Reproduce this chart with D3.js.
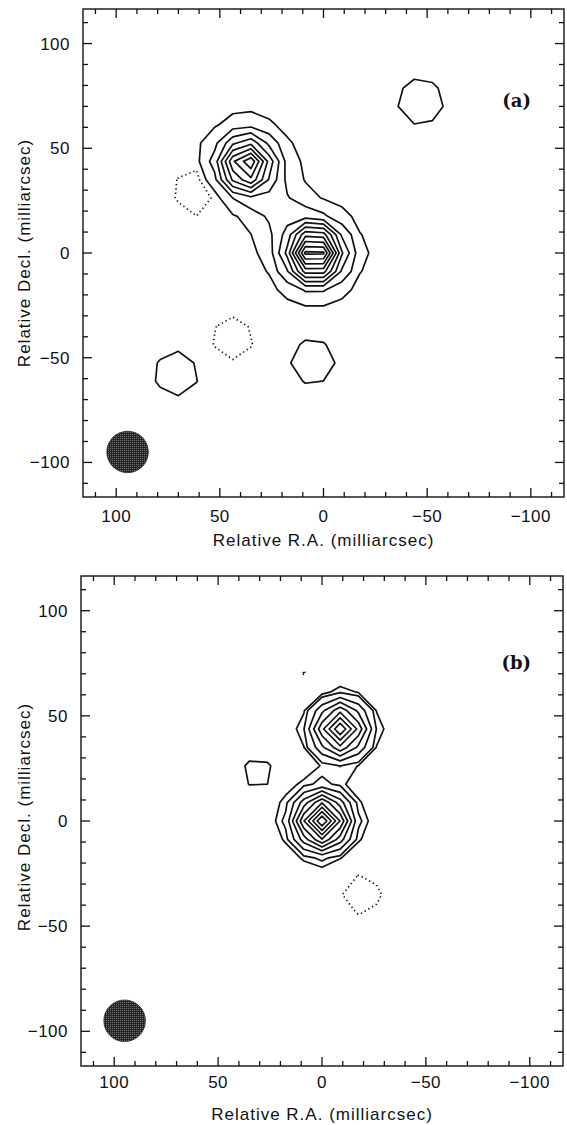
<!DOCTYPE html>
<html lang="en">
<head>
<meta charset="UTF-8">
<title>Relative R.A. / Decl. contour maps</title>
<script src="https://cdn.jsdelivr.net/npm/d3@7"></script>
<style>
  body { margin: 0; background: #fff; }
  text { font-family: "Liberation Sans", Arial, sans-serif; fill: #111; }
  .tick-label { font-size: 17px; letter-spacing: 0.5px; }
  .axis-title { font-size: 17px; letter-spacing: 1px; }
  .panel-tag { font-family: "DejaVu Serif", serif; font-weight: bold; font-size: 18px; }
  .frame { fill: none; stroke: #111; stroke-width: 1.4; }
  .tick { stroke: #111; stroke-width: 1.3; }
  .pos { fill: none; stroke: #111; stroke-width: 1.7; stroke-linejoin: round; }
  .neg { fill: none; stroke: #111; stroke-width: 1.7; stroke-dasharray: 1.3 3; }
</style>
</head>
<body>
<div id="chart"></div>
<script>
// image cell size (mas) and half-width of the map grid, in cells
var cellSize = 8.75;
var gridHalf = 14;

// contour levels, percent of peak
var levelsA = [-2, 2, 10, 20, 30, 40, 50, 60, 70, 80, 90];
var levelsB = [-6, 6, 10, 20, 30, 40, 50, 60, 70, 80, 90];

// components (a): RA, Dec (mas), peak (%), width (mas)
var compRA_A    = [4.4, 37, 21, -46.6, 59, 44, 70.7, 5.3];
var compDec_A   = [0, 42, 20, 72, 30, -41, -57.6, -52];
var compPeak_A  = [105, 82, 13, 4.5, -6, -4.0, 4.3, 4.3];
var compSigma_A = [8.5, 8.5, 9, 8.5, 8.5, 8.5, 8.5, 8.5];

// components (b)
var compRA_B    = [0, -8.75, 31, -19, 6];
var compDec_B   = [0, 43.75, 23, -35, 73];
var compPeak_B  = [101, 80, 8.5, -11, -7];
var compSigma_B = [8.5, 8.5, 8.5, 8.5, 8.5];

// restoring beam (lower left)
var beamRA = [94.5, 95];
var beamDec = [-95, -95];
var beamRadius = 10;

// axes
var tickValues = d3.range(-110, 111, 10);
var xTickLabels = [100, 50, 0, -50, -100];
var yTickLabels = [-100, -50, 0, 50, 100];
var panelTags = ["(a)", "(b)"];

var panels = [
  { tag: panelTags[0], levels: levelsA,
    ra: compRA_A, dec: compDec_A, peak: compPeak_A, sigma: compSigma_A,
    left: 83, right: 564, top: 9, bottom: 497,
    tickY: 522, titleY: 546, yTitleMid: 253, tagY: 107 },
  { tag: panelTags[1], levels: levelsB,
    ra: compRA_B, dec: compDec_B, peak: compPeak_B, sigma: compSigma_B,
    left: 81, right: 563, top: 576, bottom: 1066,
    tickY: 1088, titleY: 1120, yTitleMid: 817, tagY: 669 }
];

var width = 567, height = 1125;
var svg = d3.select("#chart").append("svg")
    .attr("width", width)
    .attr("height", height);

var defs = svg.append("defs");
var pat = defs.append("pattern")
    .attr("id", "stipple")
    .attr("patternUnits", "userSpaceOnUse")
    .attr("width", 2).attr("height", 2);
pat.append("rect").attr("width", 2).attr("height", 2).attr("fill", "#262626");
pat.append("rect").attr("width", 1).attr("height", 1).attr("fill", "#707070");

function fmt(v) {
  return v < 0 ? "\u2212" + (-v) : String(v);
}

function gridValues(p) {
  var n = 2 * gridHalf + 1;
  var values = new Array(n * n);
  for (var j = 0; j < n; j++) {
    for (var i = 0; i < n; i++) {
      var ra = (i - gridHalf) * cellSize,
          dec = (j - gridHalf) * cellSize,
          s = 0;
      for (var k = 0; k < p.ra.length; k++) {
        var dx = ra - p.ra[k], dy = dec - p.dec[k];
        s += p.peak[k] * Math.exp(-(dx * dx + dy * dy) / (2 * p.sigma[k] * p.sigma[k]));
      }
      values[j * n + i] = s;
    }
  }
  return values;
}

panels.forEach(function(p, pi) {
  var x = d3.scaleLinear().domain([116, -116]).range([p.left, p.right]);
  var y = d3.scaleLinear().domain([-116.5, 116.5]).range([p.bottom, p.top]);
  var g = svg.append("g").attr("class", "panel");

  // contours
  var n = 2 * gridHalf + 1;
  var toMas = function(c) { return (c - 0.5 - gridHalf) * cellSize; };
  var proj = d3.geoTransform({
    point: function(px, py) { this.stream.point(x(toMas(px)), y(toMas(py))); }
  });
  var path = d3.geoPath(proj);
  var values = gridValues(p);

  var posLevels = p.levels.filter(function(l) { return l > 0; });
  var negLevels = p.levels.filter(function(l) { return l < 0; }).map(function(l) { return -l; });

  var pos = d3.contours().size([n, n]).thresholds(posLevels)(values);
  var neg = d3.contours().size([n, n]).thresholds(negLevels)(values.map(function(v) { return -v; }));

  g.selectAll("path.pos").data(pos).enter().append("path")
      .attr("class", "pos")
      .attr("d", path);
  g.selectAll("path.neg").data(neg).enter().append("path")
      .attr("class", "neg")
      .attr("d", path);

  // beam
  g.append("circle")
      .attr("cx", x(beamRA[pi]))
      .attr("cy", y(beamDec[pi]))
      .attr("r", Math.abs(x(beamRadius) - x(0)))
      .attr("fill", "url(#stipple)")
      .attr("stroke", "#222")
      .attr("stroke-width", 0.8);

  // frame
  g.append("rect").attr("class", "frame")
      .attr("x", p.left).attr("y", p.top)
      .attr("width", p.right - p.left).attr("height", p.bottom - p.top);

  // ticks, inward on all four sides
  var len = function(v) { return v % 50 === 0 ? 9 : 5; };
  tickValues.forEach(function(v) {
    var tx = x(v), ty = y(v);
    g.append("line").attr("class", "tick")
        .attr("x1", tx).attr("x2", tx).attr("y1", p.bottom).attr("y2", p.bottom - len(v));
    g.append("line").attr("class", "tick")
        .attr("x1", tx).attr("x2", tx).attr("y1", p.top).attr("y2", p.top + len(v));
    g.append("line").attr("class", "tick")
        .attr("y1", ty).attr("y2", ty).attr("x1", p.left).attr("x2", p.left + len(v));
    g.append("line").attr("class", "tick")
        .attr("y1", ty).attr("y2", ty).attr("x1", p.right).attr("x2", p.right - len(v));
  });

  g.selectAll("text.xt").data(xTickLabels).enter().append("text")
      .attr("class", "tick-label")
      .attr("x", function(d) { return x(d); })
      .attr("y", p.tickY)
      .attr("text-anchor", "middle")
      .text(fmt);

  g.selectAll("text.yt").data(yTickLabels).enter().append("text")
      .attr("class", "tick-label")
      .attr("x", p.left - 13)
      .attr("y", function(d) { return y(d) + 6; })
      .attr("text-anchor", "end")
      .text(fmt);

  g.append("text").attr("class", "axis-title")
      .attr("x", (p.left + p.right) / 2)
      .attr("y", p.titleY)
      .attr("text-anchor", "middle")
      .text("Relative R.A. (milliarcsec)");

  g.append("text").attr("class", "axis-title")
      .attr("transform", "translate(30," + p.yTitleMid + ") rotate(-90)")
      .attr("text-anchor", "middle")
      .text("Relative Decl. (milliarcsec)");

  g.append("text").attr("class", "panel-tag")
      .attr("x", 531)
      .attr("y", p.tagY)
      .attr("text-anchor", "end")
      .text(p.tag);
});
</script>
</body>
</html>
